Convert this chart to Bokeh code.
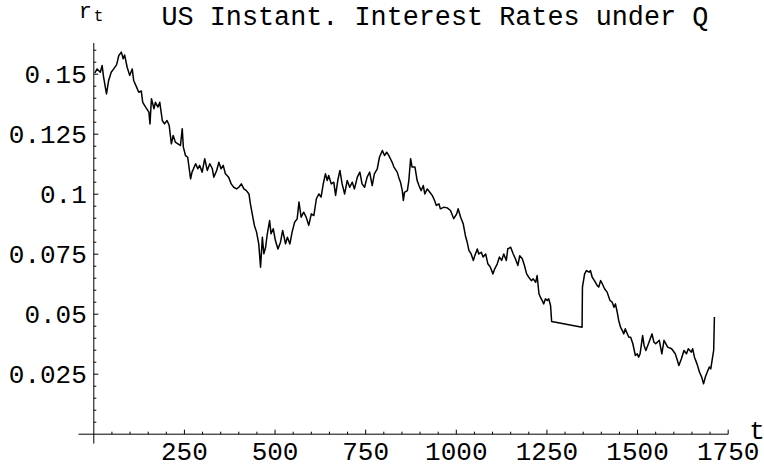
from bokeh.plotting import figure
from bokeh.models import Range1d
from bokeh.embed import file_html
from bokeh.resources import INLINE
from bokeh.core.properties import value

# ---------------- data ----------------
t_vals = [3, 9, 18, 23, 27, 35, 41, 48, 55, 63, 69, 76, 81, 85, 92, 99, 106, 110, 118, 124,
          131, 135, 143, 152, 155, 159, 166, 170, 177, 182, 189, 195, 202, 208, 214, 219, 225, 232, 239, 244,
          247, 253, 259, 267, 271, 281, 287, 292, 299, 306, 313, 320, 327, 331, 339, 345, 351, 357, 363, 372,
          379, 386, 394, 400, 407, 414, 421, 428, 432, 437, 443, 449, 455, 460, 465, 469, 474, 478, 485, 489,
          495, 501, 508, 515, 521, 529, 534, 541, 547, 554, 561, 566, 572, 579, 586, 593, 600, 607, 614, 621,
          627, 633, 639, 644, 648, 655, 662, 667, 673, 679, 685, 692, 699, 706, 713, 719, 727, 734, 740, 747,
          754, 761, 768, 774, 782, 788, 796, 802, 808, 814, 823, 828, 837, 841, 846, 851, 854, 857, 865, 869,
          874, 878, 886, 892, 897, 903, 909, 913, 920, 927, 934, 940, 945, 952, 956, 966, 975, 984, 993, 1001,
          1005, 1012, 1019, 1025, 1030, 1035, 1041, 1047, 1051, 1058, 1062, 1069, 1074, 1081, 1087, 1094, 1101, 1106, 1113, 1119,
          1125, 1131, 1138, 1142, 1150, 1157, 1163, 1170, 1175, 1182, 1188, 1194, 1200, 1207, 1212, 1219, 1223, 1228, 1232, 1237,
          1241, 1246, 1251, 1255, 1260, 1263, 1347, 1348, 1354, 1359, 1366, 1370, 1375, 1381, 1389, 1393, 1398, 1403, 1409, 1416,
          1424, 1430, 1435, 1439, 1444, 1448, 1453, 1458, 1462, 1466, 1470, 1476, 1481, 1487, 1494, 1499, 1503, 1507, 1514, 1518,
          1523, 1530, 1540, 1545, 1550, 1560, 1567, 1573, 1583, 1594, 1604, 1610, 1614, 1621, 1628, 1635, 1640, 1648, 1652, 1657,
          1664, 1671, 1677, 1682, 1687, 1694, 1698, 1702, 1707, 1710, 1712]
r_vals = [0.1505, 0.1522, 0.1508, 0.1536, 0.1488, 0.1418, 0.1474, 0.1508, 0.1522, 0.1540, 0.1578, 0.1592, 0.1564, 0.1580, 0.1529, 0.1495, 0.1522, 0.1474, 0.1446, 0.1425,
          0.1430, 0.1383, 0.1363, 0.1342, 0.1293, 0.1398, 0.1356, 0.1383, 0.1363, 0.1383, 0.1307, 0.1293, 0.1307, 0.1286, 0.1210, 0.1245, 0.1217, 0.1210, 0.1203, 0.1273,
          0.1196, 0.1161, 0.1154, 0.1064, 0.1092, 0.1127, 0.1106, 0.1120, 0.1092, 0.1148, 0.1099, 0.1127, 0.1106, 0.1071, 0.1099, 0.1133, 0.1106, 0.1120, 0.1085, 0.1071,
          0.1043, 0.1029, 0.1022, 0.1029, 0.1043, 0.1022, 0.1015, 0.1001, 0.0960, 0.0918, 0.0870, 0.0842, 0.0793, 0.0696, 0.0821, 0.0752, 0.0779, 0.0828, 0.0890, 0.0835,
          0.0856, 0.0807, 0.0772, 0.0800, 0.0849, 0.0793, 0.0821, 0.0793, 0.0842, 0.0883, 0.0897, 0.0967, 0.0904, 0.0925, 0.0904, 0.0870, 0.0918, 0.0911, 0.0981, 0.1001,
          0.0988, 0.1043, 0.1085, 0.1057, 0.1078, 0.1043, 0.1050, 0.0995, 0.1057, 0.1099, 0.1043, 0.1001, 0.1057, 0.1029, 0.1050, 0.1022, 0.1071, 0.1092, 0.1043, 0.1029,
          0.1071, 0.1092, 0.1036, 0.1085, 0.1106, 0.1154, 0.1182, 0.1161, 0.1175, 0.1161, 0.1133, 0.1113, 0.1092, 0.1071, 0.1050, 0.1015, 0.0974, 0.1008, 0.1015, 0.1057,
          0.1148, 0.1113, 0.1113, 0.1057, 0.1036, 0.1015, 0.1036, 0.1001, 0.1022, 0.1008, 0.0994, 0.0974, 0.0953, 0.0960, 0.0939, 0.0946, 0.0943, 0.0932, 0.0898, 0.0918,
          0.0939, 0.0904, 0.0877, 0.0828, 0.0800, 0.0765, 0.0751, 0.0724, 0.0744, 0.0772, 0.0751, 0.0758, 0.0738, 0.0751, 0.0710, 0.0696, 0.0668, 0.0689, 0.0710, 0.0738,
          0.0724, 0.0751, 0.0724, 0.0772, 0.0779, 0.0751, 0.0731, 0.0703, 0.0744, 0.0731, 0.0703, 0.0668, 0.0654, 0.0640, 0.0647, 0.0633, 0.0661, 0.0585, 0.0571, 0.0557,
          0.0543, 0.0564, 0.0557, 0.0564, 0.0536, 0.0470, 0.0446, 0.0613, 0.0668, 0.0682, 0.0675, 0.0682, 0.0654, 0.0640, 0.0619, 0.0613, 0.0640, 0.0626, 0.0606, 0.0592,
          0.0557, 0.0550, 0.0529, 0.0543, 0.0508, 0.0474, 0.0446, 0.0432, 0.0418, 0.0439, 0.0425, 0.0404, 0.0404, 0.0377, 0.0328, 0.0335, 0.0321, 0.0335, 0.0411, 0.0370,
          0.0349, 0.0377, 0.0418, 0.0384, 0.0377, 0.0391, 0.0335, 0.0391, 0.0363, 0.0356, 0.0335, 0.0307, 0.0286, 0.0314, 0.0349, 0.0335, 0.0356, 0.0342, 0.0356, 0.0321,
          0.0293, 0.0258, 0.0238, 0.0210, 0.0238, 0.0265, 0.0280, 0.0272, 0.0321, 0.0349, 0.0488]

x_major = [250, 500, 750, 1000, 1250, 1500, 1750]
x_labels = ["250", "500", "750", "1000", "1250", "1500", "1750"]
x_minor = [50, 100, 150, 200, 300, 350, 400, 450, 550, 600, 650, 700, 800, 850, 900, 950,
           1050, 1100, 1150, 1200, 1300, 1350, 1400, 1450, 1550, 1600, 1650, 1700]
y_major = [0.025, 0.05, 0.075, 0.1, 0.125, 0.15]
y_labels = ["0.025", "0.05", "0.075", "0.1", "0.125", "0.15"]
y_minor = [0.005, 0.01, 0.015, 0.02, 0.03, 0.035, 0.04, 0.045, 0.055, 0.06, 0.065, 0.07,
           0.08, 0.085, 0.09, 0.095, 0.105, 0.11, 0.115, 0.12, 0.13, 0.135, 0.14, 0.145, 0.155, 0.16]

title_text = "US Instant. Interest Rates under Q"
x_name = "t"
y_name = "r"
y_sub = "t"

# ---------------- layout (pixels) ----------------
W, H = 764, 467
ORIGIN = 0                    # page offset of the canvas (template has no body margin)
X0_PX, KX = 93.3, 0.3625      # page x of t=0, px per unit t
Y0_PX, KY = 433.7, 2400.0     # page y of r=0, px per unit r
X_AXIS = (-42, 1750)
Y_AXIS = (-0.0039, 0.163)
FONT = value("Liberation Mono")


def dx(px):
    return (px - X0_PX) / KX


def dy(py):
    return (Y0_PX - py) / KY


p = figure(width=W, height=H,
           x_range=Range1d(dx(ORIGIN), dx(ORIGIN + W)),
           y_range=Range1d(dy(ORIGIN + H), dy(ORIGIN)),
           x_axis_type=None, y_axis_type=None,
           output_backend="svg", toolbar_location=None,
           min_border=0, outline_line_color=None,
           background_fill_color="white", border_fill_color="white")

# axes lines
p.segment(x0=[X_AXIS[0], 0], y0=[0, Y_AXIS[0]], x1=[X_AXIS[1], 0], y1=[0, Y_AXIS[1]],
          line_color="black", line_width=1)

# ticks (pointing into the plot)
MAJ, MIN = 4.5, 2.5
p.segment(x0=x_major, y0=[0] * len(x_major), x1=x_major, y1=[MAJ / KY] * len(x_major),
          line_color="black", line_width=1)
p.segment(x0=x_minor, y0=[0] * len(x_minor), x1=x_minor, y1=[MIN / KY] * len(x_minor),
          line_color="black", line_width=1)
p.segment(x0=[0] * len(y_major), y0=y_major, x1=[MAJ / KX] * len(y_major), y1=y_major,
          line_color="black", line_width=1)
p.segment(x0=[0] * len(y_minor), y0=y_minor, x1=[MIN / KX] * len(y_minor), y1=y_minor,
          line_color="black", line_width=1)

# the series
p.line(t_vals, r_vals, line_color="black", line_width=1.5, line_join="round")

# tick labels
p.text(x=x_major, y=[0] * len(x_major), text=x_labels, text_align="center",
       text_baseline="alphabetic", y_offset=16.8, text_font=FONT,
       text_font_size="26px", text_color="black")
p.text(x=[0] * len(y_major), y=y_major, text=y_labels, text_align="right",
       text_baseline="alphabetic", x_offset=-7.0, y_offset=0.5, text_font=FONT,
       text_font_size="26px", text_color="black")

# axis names
p.text(x=[X_AXIS[1]], y=[0], text=[x_name], text_align="left", text_baseline="alphabetic",
       x_offset=21, y_offset=-2.0, text_font=FONT, text_font_size="26px", text_color="black")
p.text(x=[0], y=[Y_AXIS[1]], text=[y_name], text_align="left", text_baseline="alphabetic",
       x_offset=-15, y_offset=-31.0, text_font=FONT, text_font_size="22px", text_color="black")
p.text(x=[0], y=[Y_AXIS[1]], text=[y_sub], text_align="left", text_baseline="alphabetic",
       x_offset=0, y_offset=-26.5, text_font=FONT, text_font_size="16px", text_color="black")

# title
p.text(x=[dx(161)], y=[dy(17)], text=[title_text], text_align="left", text_baseline="alphabetic",
       text_font=FONT, text_font_size="26.8px", text_color="black")

open("out.html", "w").write(file_html(p, INLINE))
